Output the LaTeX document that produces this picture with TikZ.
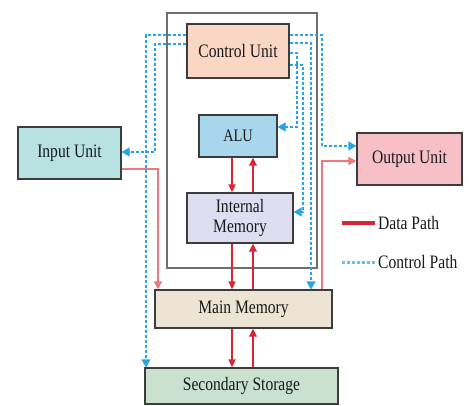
\documentclass[tikz,border=0pt]{standalone}
\usepackage{fontspec}
\setmainfont[FakeStretch=0.82]{Liberation Serif}
\usetikzlibrary{arrows.meta}
\definecolor{cuf}{RGB}{250,214,196}
\definecolor{aluf}{RGB}{168,214,236}
\definecolor{imf}{RGB}{222,222,242}
\definecolor{mmf}{RGB}{236,229,211}
\definecolor{ssf}{RGB}{201,226,207}
\definecolor{inf}{RGB}{184,226,226}
\definecolor{outf}{RGB}{246,192,198}
\definecolor{dred}{RGB}{218,38,52}
\definecolor{lred}{RGB}{238,120,125}
\definecolor{cblue}{RGB}{40,165,228}
\definecolor{bord}{RGB}{60,60,60}
\definecolor{cpug}{RGB}{110,110,110}
\begin{document}
\begin{tikzpicture}[x=1pt,y=-1pt,
  box/.style={draw=bord, line width=1.2pt, inner sep=1pt, text=black!90,
    font=\fontsize{19}{20}\selectfont, align=center},
  dpath/.style={draw=dred, line width=1.4pt, -{Triangle[length=8pt,width=7pt]}},
  upath/.style={draw=dred, line width=2.2pt, -{Triangle[length=8pt,width=7.5pt]}},
  lpath/.style={draw=lred, line width=1.6pt, -{Triangle[length=8pt,width=8pt]}},
  cpath/.style={draw=cblue, line width=1.2pt, dash pattern=on 3pt off 2pt,
    -{Triangle[length=8pt,width=9pt]}},
  legtext/.style={inner sep=0pt, anchor=west, text=black!90,
    font=\fontsize{19}{20}\selectfont}]
\useasboundingbox (0,0) rectangle (469,405);
\fill[white] (0,0) rectangle (469,405);
% CPU enclosure
\node[draw=cpug, line width=1.5pt, minimum width=150pt, minimum height=255pt, inner sep=0pt] (cpu) at (242,140.5) {};
% units
\node[box, fill=cuf, minimum width=102pt, minimum height=54pt] (cu) at (238,51) {Control Unit};
\node[box, fill=aluf, minimum width=78pt, minimum height=42pt, font=\fontsize{17.5}{18}\selectfont] (alu) at (238,136) {ALU};
\node[box, fill=imf, minimum width=106pt, minimum height=50pt] (im) at (240,218) {Internal\\Memory};
\node[box, fill=mmf, minimum width=177pt, minimum height=38pt] (mm) at (243.5,309) {Main Memory};
\node[box, fill=ssf, minimum width=193pt, minimum height=36pt] (ss) at (241.5,386) {Secondary Storage};
\node[box, fill=inf, minimum width=103pt, minimum height=52pt] (in) at (69.5,153) {Input Unit};
\node[box, fill=outf, minimum width=105pt, minimum height=52pt] (out) at (409.5,159) {Output Unit};
% helper coordinates
\coordinate (c1) at (0,35);
\coordinate (c2) at (0,43);
\coordinate (c3) at (0,53);
\coordinate (c4) at (0,65);
\coordinate (cl2) at (0,44);
\coordinate (rx1) at (297,0);
\coordinate (rx2) at (303,0);
\coordinate (rx3) at (311,0);
\coordinate (rx4) at (322,0);
\coordinate (lx1) at (146,0);
\coordinate (lx2) at (155,0);
\coordinate (orow) at (0,146);
\coordinate (arow) at (0,127);
\coordinate (imrow) at (0,212);
\coordinate (inrow) at (0,152);
\coordinate (xd) at (232,0);
\coordinate (xu) at (253,0);
\coordinate (inx) at (158,0);
\coordinate (indrow) at (0,169);
\coordinate (outrow) at (0,161);
% data paths
\draw[dpath] (alu.south -| xd) -- (im.north -| xd);
\draw[upath] (im.north -| xu) -- (alu.south -| xu);
\draw[dpath] (im.south -| xd) -- (mm.north -| xd);
\draw[upath] (mm.north -| xu) -- (im.south -| xu);
\draw[dpath] (mm.south -| xd) -- (ss.north -| xd);
\draw[upath] (ss.north -| xu) -- (mm.south -| xu);
\draw[lpath] (in.east |- indrow) -| (inx |- mm.north);
\draw[lpath] (rx4 |- mm.north) |- (out.west |- outrow);
% control paths
\draw[cpath] (cu.east |- c1) -| (rx4 |- orow) -- (out.west |- orow);
\draw[cpath] (cu.east |- c2) -| (rx3 |- mm.north);
\draw[cpath] (cu.east |- c3) -| (rx1 |- arow) -- (alu.east |- arow);
\draw[cpath] (cu.east |- c4) -| (rx2 |- imrow) -- (im.east |- imrow);
\draw[cpath] (cu.west |- c1) -| (lx1 |- ss.north);
\draw[cpath] (cu.west |- cl2) -| (lx2 |- inrow) -- (in.east |- inrow);
% legend
\node[legtext] (ldata) at (378,223) {Data Path};
\node[legtext] (lctrl) at (378,262) {Control Path};
\coordinate (ld0) at (342,223);
\coordinate (lc0) at (342,262);
\draw[draw=dred, line width=3.5pt] (ld0) -- ([xshift=-3pt]ldata.west);
\draw[draw=cblue!70, line width=3pt, dash pattern=on 3pt off 2pt] (lc0) -- ([xshift=-3pt]lctrl.west);
\end{tikzpicture}
\end{document}
